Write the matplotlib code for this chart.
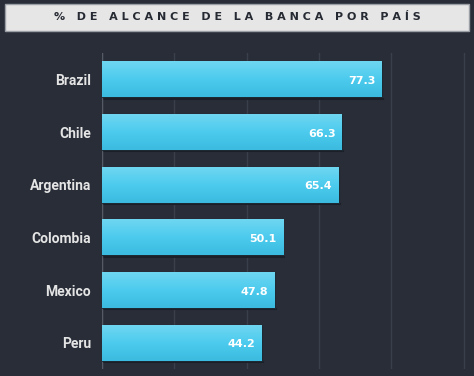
import numpy as np
import matplotlib.pyplot as plt
from matplotlib.patches import FancyBboxPatch
from matplotlib.colors import LinearSegmentedColormap

countries = ["Brazil", "Chile", "Argentina", "Colombia", "Mexico", "Peru"]
values = [77.3, 66.3, 65.4, 50.1, 47.8, 44.2]
title = "% DE ALCANCE DE LA BANCA POR PAÍS"

bg = "#282d38"
fig = plt.figure(figsize=(4.74, 3.76), dpi=100, facecolor=bg)
ax = fig.add_axes([102 / 474, 1 - 369 / 376, 364 / 474, 316 / 376])
ax.set_facecolor(bg)

y = np.arange(len(countries))
bars = ax.barh(y, values, height=0.68, color="#52cdee", zorder=3,
               edgecolor="#1e2a33", linewidth=0.8)

# vertical gradient inside each bar
grad = np.linspace(0, 1, 64).reshape(-1, 1)
cmap = LinearSegmentedColormap.from_list("b", ["#6fd6f1", "#4ccbee", "#3bbbdf"])
for b in bars:
    x0, y0 = b.get_x(), b.get_y()
    w, h = b.get_width(), b.get_height()
    im = ax.imshow(grad, cmap=cmap, aspect="auto", origin="upper",
                   extent=[x0, x0 + w, y0 + h, y0], zorder=4)
    im.set_clip_path(b)
    # shadow under bar
    ax.plot([x0 + 0.3, x0 + w + 0.3], [y0 + h + 0.03, y0 + h + 0.03],
            color="#1a1f28", lw=1.5, zorder=2)

for yi, v in zip(y, values):
    ax.text(v - 1.8, yi + 0.03, f"{v}", ha="right", va="center", color="white",
            fontsize=8, fontweight="bold", zorder=5)

ax.set_xlim(0, 100.6)
ax.set_ylim(len(countries) - 0.5, -0.5)
ax.set_xticks([0, 20, 40, 60, 80, 100])
ax.xaxis.grid(True, color="#3a404b", lw=1)
ax.set_axisbelow(True)
ax.set_yticks(y)
ax.set_yticklabels(countries, color="#e4e4e4", fontsize=10, fontweight="bold",
                   family="Roboto")
ax.tick_params(axis="y", length=0, pad=8)
ax.tick_params(axis="x", length=0, labelbottom=False)
for s in ax.spines.values():
    s.set_visible(False)
ax.axvline(0, color="#555b66", lw=1, zorder=2)

# title box
box = FancyBboxPatch((5 / 474, 1 - 31 / 376), 464 / 474, 27 / 376,
                     boxstyle="square,pad=0", transform=fig.transFigure,
                     facecolor="#e6e6e6", edgecolor="#9a9ea5", lw=1)
fig.patches.append(box)
spaced = "   ".join(" ".join(word) for word in title.split())
fig.text(0.5, 1 - 17.5 / 376, spaced, ha="center", va="center",
         color="#262a33", fontsize=8, fontweight="heavy")

fig.savefig("out.png", dpi=100, facecolor=bg)
